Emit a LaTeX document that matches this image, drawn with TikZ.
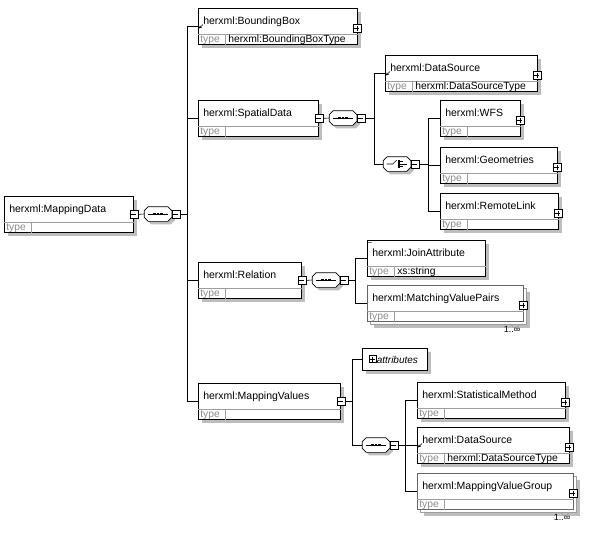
\documentclass[tikz,border=0pt]{standalone}
\usepackage{fontspec}
\setmainfont{Liberation Sans}
\usetikzlibrary{arrows.meta}

\definecolor{shadowGray}{gray}{0.74}
\definecolor{lineGray}{gray}{0.62}
\definecolor{typeGray}{gray}{0.55}

% element box: [shadow offset]{name}{x}{y}{width}{title}{type}
\newcommand{\xsdelem}[7][4]{%
  \fill[shadowGray] (#3+#1,#4+#1) rectangle ++(#5,36);
  \node[elembox, minimum width=#5pt] (#2) at (#3,#4) {};
  \draw[lineGray] ([yshift=11pt]#2.south west) -- ([yshift=11pt]#2.south east);
  \draw[lineGray] ([xshift=27pt,yshift=11pt]#2.south west) -- ([xshift=27pt]#2.south west);
  \node[nametext] (#2-name) at ([xshift=5pt,yshift=-16pt]#2.north west) {#6};
  \node[typelabel] (#2-tl) at ([xshift=2pt,yshift=2.6pt]#2.south west) {type};
  \node[typetext] (#2-tv) at ([xshift=30pt,yshift=2.6pt]#2.south west) {#7};
}

% compositor outline: {name}{x}{y}
\newcommand{\xsdcompo}[3]{%
  \node[compo] (#1) at (#2,#3) {};
  \fill[shadowGray] ([xshift=7pt,yshift=-3pt]#1.north west) -- ([xshift=-1pt,yshift=-3pt]#1.north east)
    -- ([xshift=3pt,yshift=-7pt]#1.north east) -- ([xshift=3pt,yshift=1pt]#1.south east)
    -- ([xshift=-1pt,yshift=-3pt]#1.south east) -- ([xshift=7pt,yshift=-3pt]#1.south west)
    -- ([xshift=3pt,yshift=1pt]#1.south west) -- ([xshift=3pt,yshift=-7pt]#1.north west) -- cycle;
  \draw[fill=white] ([xshift=4pt]#1.north west) -- ([xshift=-4pt]#1.north east)
    -- ([yshift=-4pt]#1.north east) -- ([yshift=4pt]#1.south east)
    -- ([xshift=-4pt]#1.south east) -- ([xshift=4pt]#1.south west)
    -- ([yshift=4pt]#1.south west) -- ([yshift=-4pt]#1.north west) -- cycle;
  \node[minusbtn] (#1-btn) at ([xshift=4pt]#1.east) {};
}

% sequence compositor: {name}{x}{y}
\newcommand{\xsdseq}[3]{%
  \xsdcompo{#1}{#2}{#3}
  \draw ([xshift=3.5pt]#1.west) -- ([xshift=-3.5pt]#1.east);
  \foreach \dx in {-3.4,0,3.4}
    \fill ([xshift=\dx pt]#1.center) +(-1.4,-1.4) rectangle +(1.4,1.4);
}

% choice compositor: {name}{x}{y}
\newcommand{\xsdchoice}[3]{%
  \xsdcompo{#1}{#2}{#3}
  \draw ([xshift=3.5pt]#1.west) -- ++(6,0) -- ++(4,-4);
  \draw[line width=1.6pt] ([xshift=2pt]#1.center) ++(0,-4) -- ++(0,8);
  \foreach \dy in {-2.5,0,2.5}
    \draw ([xshift=2pt]#1.center) ++(0,\dy) -- ++(3.5,0);
  \draw ([xshift=5.5pt]#1.center) -- ([xshift=-3.5pt]#1.east);
}

\begin{document}
\begin{tikzpicture}[x=1pt, y=-1pt, line width=0.6pt,
  elembox/.style={draw, fill=white, line width=0.8pt, anchor=north west, inner sep=0pt, minimum height=36pt},
  nametext/.style={anchor=base west, inner sep=0pt, font=\fontsize{10.5}{12}\selectfont},
  typelabel/.style={anchor=base west, inner sep=0pt, text=typeGray, font=\fontsize{10.3}{11}\selectfont},
  typetext/.style={anchor=base west, inner sep=0pt, font=\fontsize{10.3}{11}\selectfont},
  compo/.style={rectangle, draw=none, inner sep=0pt, minimum width=27pt, minimum height=14pt},
  btn/.style={draw, fill=white, minimum size=8pt, inner sep=0pt, line width=0.5pt},
  minusbtn/.style={btn, path picture={\draw ([xshift=1.5pt]path picture bounding box.west) -- ([xshift=-1.5pt]path picture bounding box.east);}},
  plusbtn/.style={btn, path picture={\draw ([xshift=1.5pt]path picture bounding box.west) -- ([xshift=-1.5pt]path picture bounding box.east) ([yshift=-1.5pt]path picture bounding box.north) -- ([yshift=1.5pt]path picture bounding box.south);}},
  refmark/.style={-{Stealth[length=3pt,width=3pt]}, line width=0.5pt},
  occurs/.style={anchor=north, inner sep=0pt, font=\fontsize{9}{10}\selectfont}]
\useasboundingbox (0,0) rectangle (600,538);

% root element
\xsdelem{md}{4}{196}{129}{herxml:MappingData}{}
\node[minusbtn] (md-btn) at (md.east) {};
\xsdseq{seq1}{158}{214}

% children of the root
\xsdelem{bbox}{198}{8}{159}{herxml:BoundingBox}{herxml:BoundingBoxType}
\xsdelem{spatial}{198}{100}{120}{herxml:SpatialData}{}
\xsdelem{relation}{198}{262}{103}{herxml:Relation}{}
\xsdelem{mapvals}{198}{383}{142}{herxml:MappingValues}{}
\node[plusbtn] (bbox-btn) at ([xshift=-1pt,yshift=-2pt]bbox.east) {};
\node[minusbtn] (spatial-btn) at (spatial.east) {};
\node[minusbtn] (relation-btn) at (relation.east) {};
\node[minusbtn] (mapvals-btn) at (mapvals.east) {};
\draw[refmark] ([xshift=5pt,yshift=2pt]bbox.west) -- ([xshift=1pt,yshift=-2pt]bbox.west);

% SpatialData
\xsdseq{seq2}{343}{118}
\xsdelem{ds1}{385}{55}{152}{herxml:DataSource}{herxml:DataSourceType}
\node[plusbtn] (ds1-btn) at ([xshift=-1pt,yshift=-2pt]ds1.east) {};
\draw[refmark] ([xshift=5pt,yshift=2pt]ds1.west) -- ([xshift=1pt,yshift=-2pt]ds1.west);
\xsdchoice{choice}{397}{164}
\xsdelem{wfs}{440}{100}{80}{herxml:WFS}{}
\xsdelem{geom}{440}{147}{117}{herxml:Geometries}{}
\xsdelem{remote}{440}{193}{118}{herxml:RemoteLink}{}
\node[plusbtn] (wfs-btn) at ([xshift=-1pt,yshift=-2pt]wfs.east) {};
\node[plusbtn] (geom-btn) at ([xshift=-1pt,yshift=-2pt]geom.east) {};
\node[plusbtn] (remote-btn) at ([xshift=-1pt,yshift=-2pt]remote.east) {};

% Relation
\xsdseq{seq3}{326}{280}
\xsdelem{join}{367}{240}{118}{herxml:JoinAttribute}{xs:string}
\node[inner sep=0pt, font=\fontsize{8}{8}\selectfont] (join-eq) at (370,243) {=};
\fill[shadowGray] (374,292) rectangle ++(156,36);
\draw[lineGray, fill=white] (370.5,288.5) rectangle ++(156,36);
\begin{scope}[elembox/.append style={draw=black!60}]
\xsdelem[0]{mvp}{367}{285}{156}{herxml:MatchingValuePairs}{}
\end{scope}
\node[plusbtn] (mvp-btn) at ([xshift=-1pt,yshift=-2pt]mvp.east) {};
\draw[lineGray] (511,324.5) .. controls (513,329) and (517,329) .. (519,324.5);
\node[occurs] (mvp-occ) at (512,326) {1..∞};

% MappingValues
\fill[shadowGray] (366,352) rectangle ++(65,22);
\node[draw, fill=white, anchor=north west, minimum width=65pt, minimum height=22pt, inner sep=0pt] (attrs) at (362,348) {};
\node[btn, minimum size=7pt, path picture={\draw ([xshift=1pt]path picture bounding box.west) -- ([xshift=-1pt]path picture bounding box.east) ([yshift=-1pt]path picture bounding box.north) -- ([yshift=1pt]path picture bounding box.south);}] (attrs-btn) at (372.5,359) {};
\node[anchor=west, inner sep=0pt, font=\fontsize{10}{12}\selectfont\itshape] (attrs-text) at (376.5,359.5) {attributes};
\xsdseq{seq4}{376}{445}
\xsdelem{stat}{417}{382}{148}{herxml:StatisticalMethod}{}
\xsdelem{ds2}{417}{427}{152}{herxml:DataSource}{herxml:DataSourceType}
\node[plusbtn] (stat-btn) at ([xshift=-1pt,yshift=-2pt]stat.east) {};
\node[plusbtn] (ds2-btn) at ([xshift=-1pt,yshift=-2pt]ds2.east) {};
\draw[refmark] ([xshift=5pt,yshift=2pt]ds2.west) -- ([xshift=1pt,yshift=-2pt]ds2.west);
\fill[shadowGray] (424,480) rectangle ++(156,36);
\draw[lineGray, fill=white] (420.5,476.5) rectangle ++(156,36);
\begin{scope}[elembox/.append style={draw=black!60}]
\xsdelem[0]{mvg}{417}{473}{156}{herxml:MappingValueGroup}{}
\end{scope}
\node[plusbtn] (mvg-btn) at ([xshift=-1pt,yshift=-2pt]mvg.east) {};
\draw[lineGray] (561,512.5) .. controls (563,517) and (567,517) .. (569,512.5);
\node[occurs] (mvg-occ) at (562,514) {1..∞};

% connectors
\draw (md-btn.east) -- (seq1.west);
\foreach \kid in {bbox,spatial,relation,mapvals}
  \draw (seq1-btn.east) -- ++(7.5,0) |- (\kid.west);
\draw (spatial-btn.east) -- (seq2.west);
\foreach \kid in {ds1,choice}
  \draw (seq2-btn.east) -- ++(9.5,0) |- (\kid.west);
\foreach \kid in {wfs,geom,remote}
  \draw (choice-btn.east) -- ++(9.5,0) |- (\kid.west);
\draw (relation-btn.east) -- (seq3.west);
\foreach \kid in {join,mvp}
  \draw (seq3-btn.east) -- ++(7.5,0) |- (\kid.west);
\foreach \kid in {attrs,seq4}
  \draw (mapvals-btn.east) -- ++(7,0) |- (\kid.west);
\foreach \kid in {stat,ds2,mvg}
  \draw (seq4-btn.east) -- ++(7.5,0) |- (\kid.west);
\end{tikzpicture}
\end{document}
